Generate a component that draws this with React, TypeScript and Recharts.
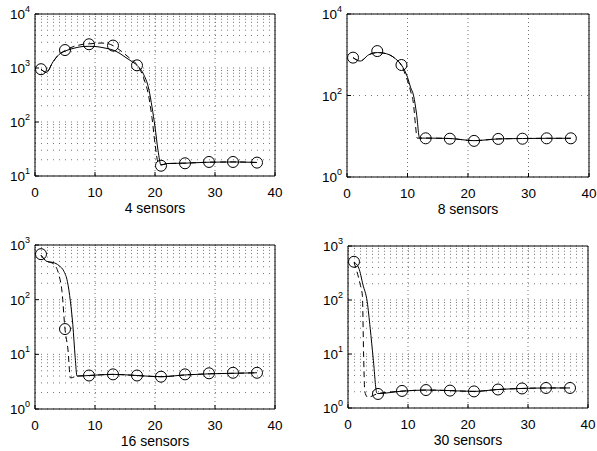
import { LineChart, Line, XAxis, YAxis, CartesianGrid, ReferenceArea } from 'recharts';

const FONT = "'Liberation Sans', Arial, Helvetica, sans-serif";

// ── Data ────────────────────────────────────────────────────────────────────

const circleX = [1, 5, 9, 13, 17, 21, 25, 29, 33, 37];
const xTicks = [0, 10, 20, 30, 40];

// 4 sensors
const circles4 = [950, 2150, 2750, 2600, 1120, 15.5, 17.2, 18.2, 18.2, 17.7];
const solid4X = [1, 1.9, 3, 4, 5, 6, 7, 8, 9, 10, 11, 12, 13, 14, 15, 16, 17, 18, 19, 19.5, 20, 20.5, 21, 22, 25, 29, 33, 37];
const solid4Y = [950, 830, 1300, 1780, 2050, 2250, 2400, 2500, 2520, 2500, 2420, 2300, 2150, 1900, 1600, 1350, 1120, 800, 390, 190, 81, 30, 16, 17, 17.3, 18, 18.2, 17.8];
const dashed4X = [1, 1.9, 3, 4, 5, 6, 7, 8, 9, 10, 11, 12, 13, 14, 15, 16, 17, 18, 19, 19.5, 20, 20.5, 21, 22, 25, 29, 33, 37];
const dashed4Y = [950, 830, 1300, 1780, 2100, 2400, 2600, 2750, 2800, 2850, 2900, 2850, 2600, 2200, 1800, 1450, 1150, 700, 280, 120, 40, 18, 16, 17, 17.3, 18, 18.2, 17.8];
const decades4 = [10, 100, 1000, 10000];

// 8 sensors
const circles8 = [850, 1230, 560, 8.9, 8.7, 7.7, 8.6, 8.7, 8.9, 8.9];
const solid8X = [1, 2.2, 3.6, 5, 6, 7, 8, 9, 10, 10.5, 11, 11.5, 12, 13, 17, 21, 25, 29, 33, 37];
const solid8Y = [850, 700, 1000, 1130, 1100, 1000, 800, 560, 280, 160, 100, 35, 9, 9, 8.8, 7.8, 8.6, 8.8, 8.9, 8.9];
const dashed8X = [1, 2.2, 3.6, 5, 6, 7, 8, 9, 10, 10.5, 11, 11.3, 11.6, 13, 17, 21, 25, 29, 33, 37];
const dashed8Y = [850, 700, 1000, 1130, 1100, 1000, 800, 540, 230, 130, 60, 20, 9, 9, 8.8, 7.8, 8.6, 8.8, 8.9, 8.9];
const decades8 = [1, 100, 10000];

// 16 sensors
const circles16 = [680, 29, 4.1, 4.3, 4.1, 3.9, 4.3, 4.5, 4.6, 4.6];
const solid16X = [1, 2, 3, 4, 4.85, 5.4, 5.9, 6.3, 6.7, 7, 9, 13, 17, 21, 25, 29, 33, 37];
const solid16Y = [650, 500, 480, 420, 325, 215, 93, 35, 8.7, 4.0, 4.1, 4.3, 4.1, 3.9, 4.2, 4.4, 4.5, 4.6];
const dashed16X = [1, 2, 3, 4, 4.5, 5, 5.5, 5.9, 7, 9, 13, 17, 21, 25, 29, 33, 37];
const dashed16Y = [650, 500, 460, 280, 140, 29, 12, 3.7, 4.0, 4.1, 4.3, 4.1, 3.9, 4.2, 4.4, 4.5, 4.6];
const decades16 = [1, 10, 100, 1000];

// 30 sensors
const circles30 = [510, 1.82, 2.07, 2.15, 2.1, 2.03, 2.2, 2.3, 2.35, 2.35];
const solid30X = [1, 1.8, 2.5, 3.2, 3.7, 4.2, 4.8, 5, 9, 13, 17, 21, 25, 29, 33, 37];
const solid30Y = [500, 390, 190, 93, 30, 8.3, 1.9, 1.85, 2.05, 2.15, 2.1, 2.03, 2.2, 2.3, 2.35, 2.35];
const dashed30X = [1, 2, 2.4, 2.6, 2.8, 3.3, 5, 9, 13, 17, 21, 25, 29, 33, 37];
const dashed30Y = [500, 200, 120, 10, 2, 1.58, 1.85, 2.05, 2.15, 2.1, 2.03, 2.2, 2.3, 2.35, 2.35];
const decades30 = [1, 10, 100, 1000];

// ── helpers ─────────────────────────────────────────────────────────────────

const pts = (xs: number[], ys: number[]) => xs.map((x, i) => ({ x, y: ys[i] }));

function withMinors(decades: number[]) {
  const out: number[] = [];
  for (let i = 0; i < decades.length - 1; i++) {
    for (let k = 1; k <= 9; k++) out.push(decades[i] * k);
  }
  out.push(decades[decades.length - 1]);
  return out;
}

function YTick({ x, y, payload, decades }: any) {
  const v = payload.value;
  if (!decades.some((d: number) => Math.abs(d - v) < 1e-9)) return null;
  const e = Math.round(Math.log10(v));
  return (
    <g>
      <line x1={x} x2={x + 4} y1={y} y2={y} stroke="#000" />
      <text x={x - 5} y={y + 5} textAnchor="end" fontSize={13.5} fontFamily={FONT} fill="#000">
        10<tspan dy={-7} fontSize={9}>{e}</tspan>
      </text>
    </g>
  );
}

function XTick({ x, y, payload }: any) {
  return (
    <g>
      <line x1={x} x2={x} y1={y} y2={y - 4} stroke="#000" />
      <text x={x} y={y + 21} textAnchor="middle" fontSize={13.5} fontFamily={FONT} fill="#000">
        {payload.value}
      </text>
    </g>
  );
}

function XLabel({ viewBox, text }: any) {
  const { x, y, width } = viewBox;
  return (
    <text x={x + width / 2} y={y + 37} textAnchor="middle" fontSize={14} fontFamily={FONT} fill="#000">
      {text}
    </text>
  );
}

interface PanelProps {
  left: number; top: number; width: number; height: number;
  decades: number[]; minor: boolean; label: string;
  circles: number[]; solid: { x: number; y: number }[]; dashed: { x: number; y: number }[];
}

function Panel({ left, top, width, height, decades, minor, label, circles, solid, dashed }: PanelProps) {
  const yTicks = minor ? withMinors(decades) : decades;
  const yDomain = [decades[0], decades[decades.length - 1]];
  return (
    <div style={{ position: 'absolute', left: left - 40, top: top - 14 }}>
      <LineChart width={width + 48} height={height + 64} margin={{ top: 14, left: 10, right: 8, bottom: 0 }}>
        <CartesianGrid vertical={false} stroke="#777" strokeDasharray="1 5" />
        <CartesianGrid horizontal={false} stroke="#777" strokeDasharray="1 3" />
        <XAxis
          dataKey="x" type="number" domain={[0, 40]} ticks={xTicks} allowDataOverflow
          height={50} tickSize={0} tickMargin={0} tickLine={false} axisLine={false}
          tick={(p: any) => <XTick {...p} />} interval={0}
          label={<XLabel text={label} />}
        />
        <YAxis
          type="number" scale="log" domain={yDomain} ticks={yTicks} allowDataOverflow
          width={30} tickSize={0} tickMargin={0} tickLine={false} axisLine={false}
          tick={(p: any) => <YTick {...p} decades={decades} />} interval={0}
        />
        <ReferenceArea x1={0} x2={40} y1={yDomain[0]} y2={yDomain[1]} fill="none" stroke="#000" strokeWidth={1} />
        <Line data={dashed} dataKey="y" type="monotone" stroke="#000" strokeWidth={1} strokeDasharray="6 4" dot={false} isAnimationActive={false} />
        <Line data={solid} dataKey="y" type="monotone" stroke="#000" strokeWidth={1} dot={false} isAnimationActive={false} />
        <Line
          data={pts(circleX, circles)} dataKey="y" stroke="none"
          dot={{ r: 5.5, stroke: '#000', strokeWidth: 1, fill: 'none' }}
          isAnimationActive={false}
        />
      </LineChart>
    </div>
  );
}

// ── Main component ──────────────────────────────────────────────────────────

export default function App() {
  return (
    <div style={{ position: 'absolute', left: 0, top: 0, width: 597, height: 451, background: '#fff' }}>
      <Panel left={35} top={14} width={240} height={162} decades={decades4} minor label="4 sensors"
        circles={circles4} solid={pts(solid4X, solid4Y)} dashed={pts(dashed4X, dashed4Y)} />
      <Panel left={347} top={14} width={242} height={163} decades={decades8} minor={false} label="8 sensors"
        circles={circles8} solid={pts(solid8X, solid8Y)} dashed={pts(dashed8X, dashed8Y)} />
      <Panel left={35} top={245} width={240} height={164} decades={decades16} minor label="16 sensors"
        circles={circles16} solid={pts(solid16X, solid16Y)} dashed={pts(dashed16X, dashed16Y)} />
      <Panel left={348} top={246} width={240} height={162} decades={decades30} minor label="30 sensors"
        circles={circles30} solid={pts(solid30X, solid30Y)} dashed={pts(dashed30X, dashed30Y)} />
    </div>
  );
}
